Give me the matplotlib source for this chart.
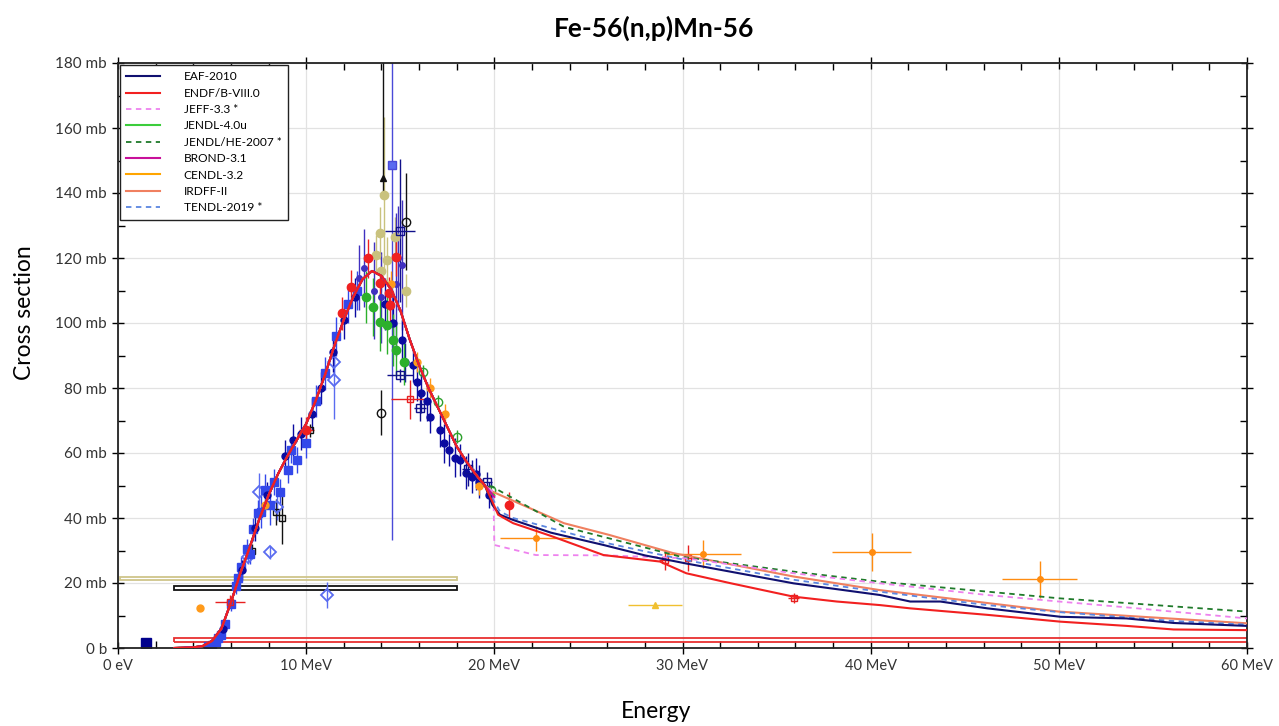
import matplotlib
matplotlib.use("Agg")
import matplotlib.pyplot as plt
from matplotlib.patches import Rectangle
from matplotlib.ticker import MultipleLocator, FuncFormatter

# ---------------- evaluated libraries ----------------
E_MAIN = [3.0, 4.0, 4.5, 5.0, 5.5, 6.0, 6.5, 7.0, 7.5, 8.0, 8.5, 9.0, 9.5, 10.0,
          10.5, 11.0, 11.5, 12.0, 12.5, 13.0, 13.5, 14.0, 14.5, 15.0, 15.5, 16.0,
          16.5, 17.0, 17.5, 18.0, 18.5, 19.0, 19.5]
SIG_MAIN = [0.0, 0.2, 0.6, 2.2, 6.0, 14.0, 23.0, 31.0, 39.5, 47.0, 53.5, 59.0, 64.0, 69.0,
            76.0, 84.0, 93.0, 101.0, 108.0, 113.5, 116.0, 114.5, 110.5, 104.0, 95.0, 87.0,
            80.0, 74.0, 68.0, 62.0, 57.5, 53.5, 50.0]

EAF_E = [19.9, 20.3, 21.0, 23.0, 25.8, 28.0, 30.2, 35.9, 40.5, 42.1, 43.7, 46.2, 50.1, 53.6, 56.1, 60.0]
EAF_S = [44.0, 41.0, 39.4, 35.5, 31.7, 28.5, 26.0, 19.9, 16.3, 14.3, 14.3, 12.2, 9.6, 9.1, 7.7, 6.8]

ENDF_E = [19.9, 20.2, 21.0, 23.0, 25.8, 28.8, 30.2, 32.5, 35.9, 38.2, 40.5, 42.1, 46.2, 50.1, 53.6, 56.1, 60.0]
ENDF_S = [45.0, 41.0, 38.4, 34.5, 28.6, 26.6, 23.0, 20.0, 15.8, 14.3, 13.2, 12.2, 10.2, 8.1, 6.8, 5.7, 5.5]

JEFF_E = [19.95, 20.0, 22.2, 26.0, 30.2, 35.9, 40.5, 46.2, 50.0, 53.6, 60.0]
JEFF_S = [48.0, 31.7, 28.6, 28.5, 27.6, 23.0, 19.9, 16.3, 14.3, 12.5, 9.1]

JENDLHE_E = [19.9, 23.7, 29.9, 35.9, 40.5, 50.0, 60.0]
JENDLHE_S = [49.6, 37.3, 28.1, 23.5, 20.4, 15.3, 11.2]

IRDFF_E = [19.9, 23.7, 26.1, 29.5, 35.9, 40.5, 50.0, 60.0]
IRDFF_S = [48.1, 38.4, 34.8, 29.2, 22.0, 17.8, 11.2, 7.6]

TENDL_E = [19.9, 20.3, 21.0, 25.8, 30.2, 35.9, 40.5, 46.2, 50.1, 56.1, 60.0]
TENDL_S = [46.0, 42.0, 40.0, 32.5, 27.0, 21.0, 17.3, 13.2, 11.0, 8.3, 7.2]

SHORT_E = [20.0]
JENDL4_S = [47.0]
BROND_S = [46.5]
CENDL_S = [47.5]

LIB_NAMES = ["EAF-2010", "ENDF/B-VIII.0", "JEFF-3.3 *", "JENDL-4.0u", "JENDL/HE-2007 *",
             "BROND-3.1", "CENDL-3.2", "IRDFF-II", "TENDL-2019 *"]

# ---------------- experimental data ----------------
# blue filled squares
BSQ_E = [5.0, 5.2, 5.45, 5.7, 6.0, 6.25, 6.55, 6.85, 7.15, 7.45, 7.8, 8.6, 9.05, 9.5, 10.0, 10.5, 11.0, 11.6, 12.2, 12.7,
         4.8, 5.3, 6.4, 7.0, 7.6, 8.1, 8.3, 9.2]
BSQ_S = [1.0, 2.0, 4.0, 7.5, 13.5, 19.0, 25.0, 30.5, 36.5, 41.5, 48.6, 48.0, 54.8, 57.8, 63.0, 76.0, 84.5, 96.0, 106.0, 110.0,
         0.6, 3.0, 21.5, 29.0, 42.0, 44.0, 51.0, 61.0]
BSQ_D = [0.5, 0.8, 1.0, 1.5, 2.0, 2.5, 3.0, 3.0, 3.5, 4.0, 5.0, 4.0, 4.0, 4.0, 4.5, 5.0, 5.0, 6.0, 6.0, 6.0,
         0.3, 1.0, 2.5, 3.0, 5.0, 6.0, 4.0, 4.0]

# navy filled circles
NAV_E = [5.6, 6.6, 7.3, 7.9, 8.9, 9.3, 9.7, 10.3, 10.8, 11.4, 12.0, 12.6,
         14.2, 14.6, 15.07, 15.25, 15.7, 16.1, 16.6, 17.1, 17.6, 18.2, 18.8, 19.2, 19.7,
         15.9, 16.4, 17.3, 17.9, 18.5, 19.0]
NAV_S = [6.0, 24.0, 37.0, 47.0, 59.0, 64.0, 66.0, 72.0, 80.0, 91.0, 101.0, 108.0,
         106.0, 100.0, 94.8, 88.0, 87.0, 78.4, 71.2, 67.0, 61.0, 57.8, 52.7, 51.2, 47.1,
         82.0, 76.0, 63.0, 58.5, 54.0, 53.5]
NAV_D = [2, 3, 4, 4, 5, 5, 5, 5, 5, 6, 6, 6, 8, 8, 6, 6, 5, 6, 5, 5, 5, 5, 5, 5, 4,
         6, 6, 6, 6, 5, 5]

# purple-blue points with large uncertainties near the peak
PUR_E = [12.8, 13.1, 13.6, 14.0, 14.9, 15.1, 14.75]
PUR_S = [114.0, 117.0, 110.0, 108.0, 120.0, 118.0, 112.0]
PUR_D = [10, 12, 15, 14, 16, 20, 22]

# navy open squares with energy spread
NOS_E = [15.0, 16.05, 15.0, 19.6, 18.6]
NOS_S = [84.0, 73.8, 128.4, 51.2, 55.0]
NOS_DE = [0.7, 0.3, 0.8, 0.3, 0.3]
NOS_D = [2.0, 4.0, 22.0, 3.0, 5.0]

# red circles
RED_E = [12.4, 13.3, 13.9, 14.4, 14.45, 14.8, 10.0, 11.9, 20.8]
RED_S = [111.2, 119.9, 112.2, 109.1, 105.5, 120.4, 67.0, 103.0, 44.0]
RED_DE = [0, 0, 0, 0, 0, 0, 0.4, 0, 0]
RED_D = [5, 6, 5, 5, 5, 6, 4, 5, 4]

# red crosses
RCR_E = [5.95, 15.5, 29.06, 30.3, 35.9]
RCR_S = [14.2, 76.5, 27.1, 27.7, 15.4]
RCR_DE = [0.8, 1.0, 0.3, 0.3, 0.3]
RCR_D = [2.0, 6.0, 3.0, 4.0, 1.5]

# green
GRN_E = [13.2, 13.56, 13.9, 14.3, 14.6, 14.8, 15.2]
GRN_S = [108.0, 105.0, 100.4, 99.4, 94.8, 91.7, 88.0]
GRN_D = [8, 9, 9, 9, 8, 8, 7]
GRO_E = [16.2, 17.0, 18.0, 19.8]
GRO_S = [85.0, 75.8, 65.0, 48.5]

# tan
TAN_E = [13.7, 13.9, 14.3, 14.7, 14.0, 15.3, 14.15]
TAN_S = [121.0, 127.6, 119.4, 126.6, 116.0, 110.0, 139.4]
TAN_D = [6, 8, 7, 6, 6, 5, 24]

# black
BLK_E = [14.0, 15.3, 7.1, 8.4, 8.7, 10.2]
BLK_S = [72.4, 131.2, 30.0, 42.0, 40.0, 67.0]
BLK_D = [7, 15, 2, 4, 8, 2]
BTRI_E = [14.1]
BTRI_S = [144.5]
BTRI_DLO = [5.0]
BTRI_DHI = [40.0]

# open blue diamonds
DIA_E = [8.08, 8.43, 11.1, 11.5, 11.5, 7.5, 6.9]
DIA_S = [29.4, 43.5, 16.3, 88.0, 82.5, 48.0, 28.0]
DIA_D = [2, 4, 4, 4, 12, 6, 2]

# big blue error bar
BIG_E = [14.56]
BIG_S = [148.6]
BIG_DLO = [115.4]
BIG_DHI = [45.0]

# orange
ORT_E = [22.24, 31.1, 40.05, 48.99]
ORT_S = [33.7, 28.8, 29.6, 21.1]
ORT_DE = [1.95, 2.0, 2.1, 2.0]
ORT_D = [3.8, 4.3, 5.9, 5.6]
ORP_E = [7.8, 15.9, 16.6, 17.4, 19.2, 14.5, 4.36]
ORP_S = [44.0, 88.0, 80.0, 72.0, 50.0, 112.0, 12.2]
ORP_D = [2, 3, 3, 3, 3, 4, 0.5]

# yellow triangle
YEL_E = [28.53]
YEL_S = [13.2]
YEL_DE = [1.43]

# dark blue square at low energy
DBS_E = [1.49]
DBS_S = [1.4]

# integral measurements drawn as boxes
BOX_E0 = [0.1, 3.0, 3.0]
BOX_E1 = [18.0, 18.0, 62.0]
BOX_LO = [20.8, 17.8, 1.9]
BOX_HI = [21.9, 19.1, 3.2]
BOX_COL = ["#cfc58a", "#111111", "#e83030"]

X_TICKS = [0, 10, 20, 30, 40, 50, 60]
Y_TICKS = [0, 20, 40, 60, 80, 100, 120, 140, 160, 180]

# ---------------- figure ----------------
plt.rcParams['font.family'] = ['Lato', 'DejaVu Sans']
fig = plt.figure(figsize=(12.79, 7.26), dpi=100)
ax = fig.add_axes([118/1279, 1-648/726, (1247-118)/1279, (648-63)/726])
ax.set_xlim(0, 60)
ax.set_ylim(0, 180)

ax.grid(True, which='major', color='#e2e2e2', linewidth=0.9)
ax.set_axisbelow(True)

ekw = dict(capsize=0, elinewidth=1.0, linestyle='none')

for e0, e1, lo, hi, c in zip(BOX_E0, BOX_E1, BOX_LO, BOX_HI, BOX_COL):
    ax.add_patch(Rectangle((e0, lo), e1 - e0, hi - lo, fill=False, edgecolor=c, linewidth=1.3, zorder=2))

ax.errorbar(BIG_E, BIG_S, yerr=[BIG_DLO, BIG_DHI], fmt='s', color='#4a4ad8', ms=6, mfc='#5a6af0', **ekw)
ax.errorbar(TAN_E, TAN_S, yerr=TAN_D, fmt='o', color='#c9c27e', ms=6, **ekw)
ax.errorbar(BTRI_E, BTRI_S, yerr=[BTRI_DLO, BTRI_DHI], fmt='^', color='#111111', ms=5, **ekw)
ax.errorbar(BLK_E[:2], BLK_S[:2], yerr=BLK_D[:2], fmt='o', color='#111111', ms=6, mfc='none', **ekw)
ax.errorbar(BLK_E[2:], BLK_S[2:], yerr=BLK_D[2:], fmt='s', color='#111111', ms=4, mfc='none', **ekw)
ax.errorbar(PUR_E, PUR_S, yerr=PUR_D, fmt='o', color='#4030c0', ms=4, **ekw)
ax.errorbar(DIA_E, DIA_S, yerr=DIA_D, fmt='D', color='#5a6cf0', ms=6, mfc='none', mew=1.3, **ekw)
ax.errorbar(BSQ_E, BSQ_S, yerr=BSQ_D, fmt='s', color='#3348ea', ms=6, **ekw)
ax.errorbar(NAV_E, NAV_S, yerr=NAV_D, fmt='o', color='#0b0ba0', ms=5, **ekw)
ax.errorbar(NOS_E, NOS_S, xerr=NOS_DE, yerr=NOS_D, fmt='s', color='#10108a', ms=6, mfc='none', **ekw)
ax.errorbar(GRN_E, GRN_S, yerr=GRN_D, fmt='o', color='#2cb02c', ms=6, **ekw)
ax.errorbar(GRO_E, GRO_S, yerr=[2] * len(GRO_E), fmt='o', color='#2ca02c', ms=6, mfc='none', **ekw)
ax.errorbar(RED_E, RED_S, xerr=RED_DE, yerr=RED_D, fmt='o', color='#f02020', ms=6, **ekw)
ax.errorbar(RCR_E, RCR_S, xerr=RCR_DE, yerr=RCR_D, fmt='s', color='#e82020', ms=5, mfc='none', **ekw)
ax.errorbar(ORP_E, ORP_S, yerr=ORP_D, fmt='o', color='#ff9a1a', ms=5, **ekw)
ax.errorbar(ORT_E, ORT_S, xerr=ORT_DE, yerr=ORT_D, fmt='o', color='#ff8c10', ms=4, **ekw)
ax.errorbar(YEL_E, YEL_S, xerr=YEL_DE, fmt='^', color='#f0c030', ms=5, **ekw)
ax.plot(DBS_E, DBS_S, 's', color='#00008c', ms=7, linestyle='none')

# library curves
lw = 1.5
ax.plot(E_MAIN + SHORT_E, SIG_MAIN + CENDL_S, color='#ffa500', lw=lw, label=LIB_NAMES[6], zorder=4)
ax.plot(E_MAIN + SHORT_E, SIG_MAIN + JENDL4_S, color='#3ccd3c', lw=lw, label=LIB_NAMES[3], zorder=4)
ax.plot(E_MAIN + IRDFF_E, SIG_MAIN + IRDFF_S, color='#f08060', lw=lw, label=LIB_NAMES[7], zorder=4)
ax.plot(E_MAIN + JENDLHE_E, SIG_MAIN + JENDLHE_S, color='#1f7a2a', lw=1.3, ls=(0, (3, 2.5)), label=LIB_NAMES[4], zorder=4)
ax.plot(E_MAIN + JEFF_E, SIG_MAIN + JEFF_S, color='#ee82ee', lw=1.3, ls=(0, (3, 2.5)), label=LIB_NAMES[2], zorder=4)
ax.plot(E_MAIN + TENDL_E, SIG_MAIN + TENDL_S, color='#5b86e0', lw=1.3, ls=(0, (3, 2.5)), label=LIB_NAMES[8], zorder=4)
ax.plot(E_MAIN + EAF_E, SIG_MAIN + EAF_S, color='#101070', lw=lw, label=LIB_NAMES[0], zorder=4)
ax.plot(E_MAIN + SHORT_E, SIG_MAIN + BROND_S, color='#c8109a', lw=lw, label=LIB_NAMES[5], zorder=4)
ax.plot(E_MAIN + ENDF_E, SIG_MAIN + ENDF_S, color='#f22020', lw=lw, label=LIB_NAMES[1], zorder=4)

# ticks
ax.xaxis.set_minor_locator(MultipleLocator(2))
ax.yaxis.set_minor_locator(MultipleLocator(10))
ax.set_xticks(X_TICKS)
ax.set_yticks(Y_TICKS)
ax.xaxis.set_major_formatter(FuncFormatter(lambda v, p: "0 eV" if v == 0 else f"{int(v)} MeV"))
ax.yaxis.set_major_formatter(FuncFormatter(lambda v, p: "0 b" if v == 0 else f"{int(v)} mb"))
ax.tick_params(which='major', direction='inout', length=8, width=1, top=True, right=True,
               labelsize=10.5, labelcolor='#333333', pad=4)
ax.tick_params(which='minor', direction='in', length=5, width=1, top=True, right=True)
ax.tick_params(axis='y', labelsize=11)
for s in ax.spines.values():
    s.set_color('#222222')
    s.set_linewidth(1.3)

handles, labels = ax.get_legend_handles_labels()
order = [labels.index(n) for n in LIB_NAMES]
leg = ax.legend([handles[i] for i in order], [labels[i] for i in order], loc='upper left',
                bbox_to_anchor=(0.0, 1.0), fontsize=8.6, frameon=True, fancybox=False,
                edgecolor='#222222', framealpha=1, handlelength=2.8, labelspacing=0.45,
                borderpad=0.55, handletextpad=2.0, borderaxespad=0.15)
leg.get_frame().set_linewidth(1.0)
leg.set_zorder(10)

fig.text(654/1279, 1-28/726, "Fe-56(n,p)Mn-56", ha='center', va='center', fontsize=19, fontweight='bold',
         family=['Liberation Sans Narrow', 'Lato', 'DejaVu Sans'])
fig.text(25/1279, 1-313/726, "Cross section", ha='center', va='center', rotation=90, fontsize=16.5)
fig.text(656/1279, 1-711/726, "Energy", ha='center', va='center', fontsize=16.5)

fig.savefig("out.png", dpi=100)
